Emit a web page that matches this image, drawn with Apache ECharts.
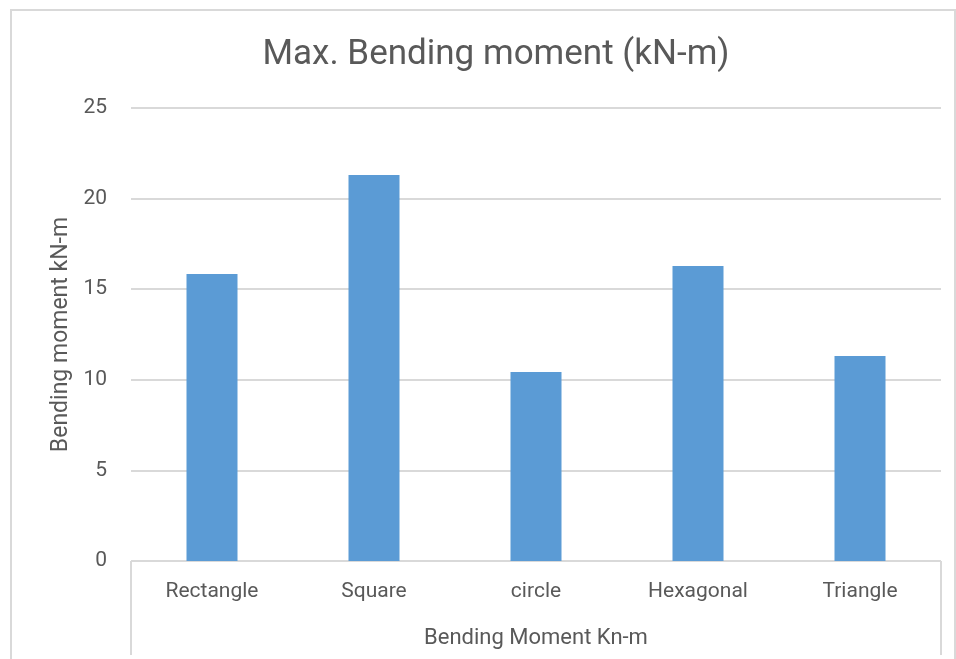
<!DOCTYPE html>
<html>
<head>
<meta charset="utf-8">
<title>Max. Bending moment</title>
<script src="https://cdn.jsdelivr.net/npm/echarts@6/dist/echarts.min.js"></script>
<style>
	html, body { margin: 0; padding: 0; background: #fff; }
	#main { width: 956px; height: 659px; }
</style>
</head>
<body>
<div id="main"></div>
<script>
	// data
	var shapes = ['Rectangle', 'Square', 'circle', 'Hexagonal', 'Triangle'];
	var moments = [15.84, 21.3, 10.43, 16.28, 11.31];
	var groupLabel = ['Bending Moment Kn-m'];

	var txt = '#595959';
	var fnt = 'Roboto';

	var myChart = echarts.init(document.getElementById('main'));
	var option = {
		backgroundColor: '#fff',
		animation: false,
		title: {
			text: 'Max. Bending moment (kN-m)',
			left: 491,
			top: 33,
			textAlign: 'center',
			textStyle: { fontFamily: fnt, fontSize: 35, fontWeight: 'normal', color: txt }
		},
		graphic: [{
			type: 'rect',
			shape: { x: 11, y: 10, width: 944, height: 660 },
			style: { fill: null, stroke: '#d9d9d9', lineWidth: 2 },
			silent: true
		}],
		grid: { left: 131, right: 15, top: 108, bottom: 98 },
		xAxis: [{
			type: 'category',
			data: shapes,
			axisLine: { lineStyle: { color: '#d9d9d9' } },
			axisTick: { show: false },
			axisLabel: { fontFamily: fnt, fontSize: 21, color: txt, margin: 20 }
		}, {
			type: 'category',
			data: groupLabel,
			position: 'bottom',
			axisLine: { show: false },
			axisTick: { show: true, length: 94, lineStyle: { color: '#d9d9d9', width: 2 } },
			axisLabel: { fontFamily: fnt, fontSize: 22, color: txt, margin: 66 }
		}],
		yAxis: {
			type: 'value',
			min: 0,
			max: 25,
			interval: 5,
			name: 'Bending moment kN-m',
			nameLocation: 'middle',
			nameGap: 58,
			nameTextStyle: { fontFamily: fnt, fontSize: 23, color: txt },
			axisLine: { show: false },
			axisTick: { show: false },
			axisLabel: { fontFamily: fnt, fontSize: 21, color: txt, margin: 24 },
			splitLine: { lineStyle: { color: '#d9d9d9', width: 2 } }
		},
		series: [{
			type: 'bar',
			data: moments,
			barWidth: 51,
			itemStyle: { color: '#5b9bd5' }
		}]
	};
	myChart.setOption(option);
</script>
</body>
</html>
